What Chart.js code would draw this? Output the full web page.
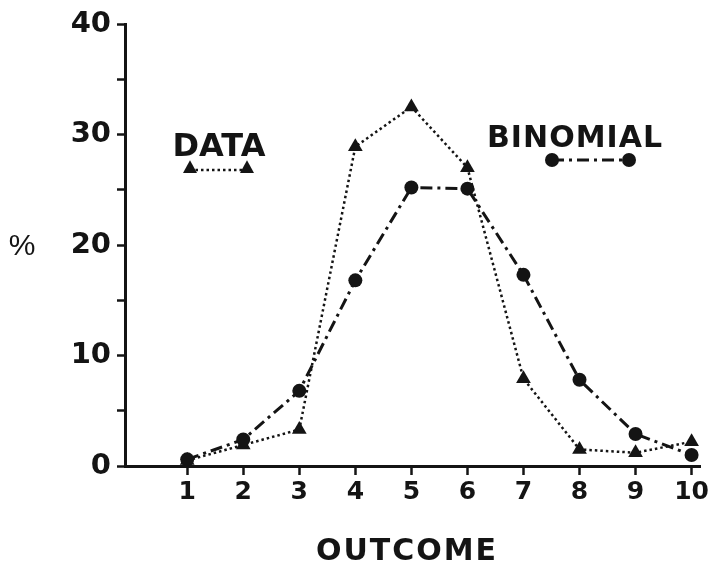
<!DOCTYPE html>
<html>
<head>
<meta charset="utf-8">
<title>Outcome distribution</title>
<script src="https://cdn.jsdelivr.net/npm/chart.js"></script>
<style>
  html, body { margin: 0; padding: 0; background: #fff; }
  canvas { display: block; }
</style>
</head>
<body>
<canvas id="outcomeChart" width="713" height="568"></canvas>
<script>
// outcomes on the x axis
var outcomes = [1, 2, 3, 4, 5, 6, 7, 8, 9, 10];
// observed percentages (triangles, dotted)
var observed = [0.5, 1.9, 3.3, 28.9, 32.5, 27.0, 7.9, 1.5, 1.2, 2.2];
// binomial percentages (circles, dash-dot)
var binomial = [0.6, 2.4, 6.8, 16.8, 25.2, 25.1, 17.3, 7.8, 2.9, 1.0];
// y axis labels every 10, small ticks in between
var yLabels = [0, 10, 20, 30, 40];

var ink = '#141414';
var boldFont = '"DejaVu Sans", "Liberation Sans", sans-serif';

function toPoints(values) {
    var pts = [];
    for (var i = 0; i < outcomes.length; i++) {
        pts.push({ x: outcomes[i], y: values[i] });
    }
    return pts;
}

function mark(ctx, style, x, y, r) {
    ctx.save();
    ctx.fillStyle = ink;
    ctx.beginPath();
    if (style === 'triangle') {
        ctx.moveTo(x, y - r * 1.1);
        ctx.lineTo(x + r, y + r * 0.7);
        ctx.lineTo(x - r, y + r * 0.7);
        ctx.closePath();
    } else {
        ctx.arc(x, y, r, 0, Math.PI * 2);
    }
    ctx.fill();
    ctx.restore();
}

// labels, key and axis titles drawn straight on the canvas
var annotations = {
    id: 'annotations',
    afterDraw: function (chart) {
        var ctx = chart.ctx;
        ctx.save();
        ctx.fillStyle = ink;
        ctx.textAlign = 'center';
        ctx.textBaseline = 'middle';

        ctx.font = 'bold 32px ' + boldFont;
        ctx.fillText('DATA', 219, 148);

        ctx.font = 'bold 30px ' + boldFont;
        ctx.letterSpacing = '1px';
        ctx.fillText('BINOMIAL', 575, 139);

        ctx.font = 'bold 30px ' + boldFont;
        ctx.letterSpacing = '2px';
        ctx.fillText('OUTCOME', 407, 552);

        ctx.letterSpacing = '0px';
        ctx.font = '30px "Liberation Sans", sans-serif';
        ctx.fillText('%', 22, 247);

        // key: observed
        ctx.strokeStyle = ink;
        ctx.lineWidth = 2.5;
        ctx.setLineDash([2.5, 3]);
        ctx.beginPath();
        ctx.moveTo(190, 170);
        ctx.lineTo(247, 170);
        ctx.stroke();
        // key: binomial
        ctx.lineWidth = 3;
        ctx.setLineDash([12, 5, 3, 5]);
        ctx.beginPath();
        ctx.moveTo(552, 160);
        ctx.lineTo(629, 160);
        ctx.stroke();
        ctx.setLineDash([]);
        ctx.restore();

        mark(ctx, 'triangle', 190, 168, 7);
        mark(ctx, 'triangle', 247, 168, 7);
        mark(ctx, 'circle', 552, 160, 7);
        mark(ctx, 'circle', 629, 160, 7);
    }
};

var ctx = document.getElementById('outcomeChart');

var chart = new Chart(ctx, {
    type: 'line',
    data: {
        datasets: [{
            label: 'BINOMIAL',
            data: toPoints(binomial),
            borderColor: ink,
            backgroundColor: ink,
            borderWidth: 3,
            borderDash: [12, 5, 3, 5],
            pointStyle: 'circle',
            pointRadius: 7,
            pointBorderWidth: 0,
            tension: 0,
            clip: false
        }, {
            label: 'DATA',
            data: toPoints(observed),
            borderColor: ink,
            backgroundColor: ink,
            borderWidth: 2.5,
            borderDash: [2.5, 3],
            pointStyle: 'triangle',
            pointRadius: 8.5,
            pointBorderWidth: 0,
            tension: 0,
            clip: false
        }]
    },
    options: {
        responsive: false,
        animation: false,
        layout: { padding: { top: 24, right: 13, left: 0, bottom: 0 } },
        plugins: {
            legend: { display: false },
            tooltip: { enabled: false }
        },
        scales: {
            x: {
                type: 'linear',
                min: -0.11,
                max: 10.15,
                afterFit: function (scale) { scale.height = 102; },
                afterBuildTicks: function (scale) {
                    scale.ticks = outcomes.map(function (v) { return { value: v }; });
                },
                border: { display: true, color: ink, width: 3 },
                grid: {
                    drawOnChartArea: false,
                    drawTicks: true,
                    tickLength: 9,
                    tickWidth: 2.5,
                    tickColor: ink
                },
                ticks: {
                    color: ink,
                    padding: 2,
                    font: { family: boldFont, size: 25, weight: 'bold' }
                }
            },
            y: {
                min: 0,
                max: 40,
                afterFit: function (scale) { scale.width = 125; },
                afterBuildTicks: function (scale) {
                    var t = [];
                    for (var v = 0; v <= 40; v += 5) t.push({ value: v });
                    scale.ticks = t;
                },
                border: { display: true, color: ink, width: 3 },
                grid: {
                    drawOnChartArea: false,
                    drawTicks: true,
                    tickLength: 8,
                    tickWidth: 2.5,
                    tickColor: ink
                },
                ticks: {
                    color: ink,
                    padding: 6,
                    font: { family: boldFont, size: 29, weight: 'bold' },
                    callback: function (value) {
                        return yLabels.indexOf(value) >= 0 ? String(value) : '';
                    }
                }
            }
        }
    },
    plugins: [annotations]
});
</script>
</body>
</html>
